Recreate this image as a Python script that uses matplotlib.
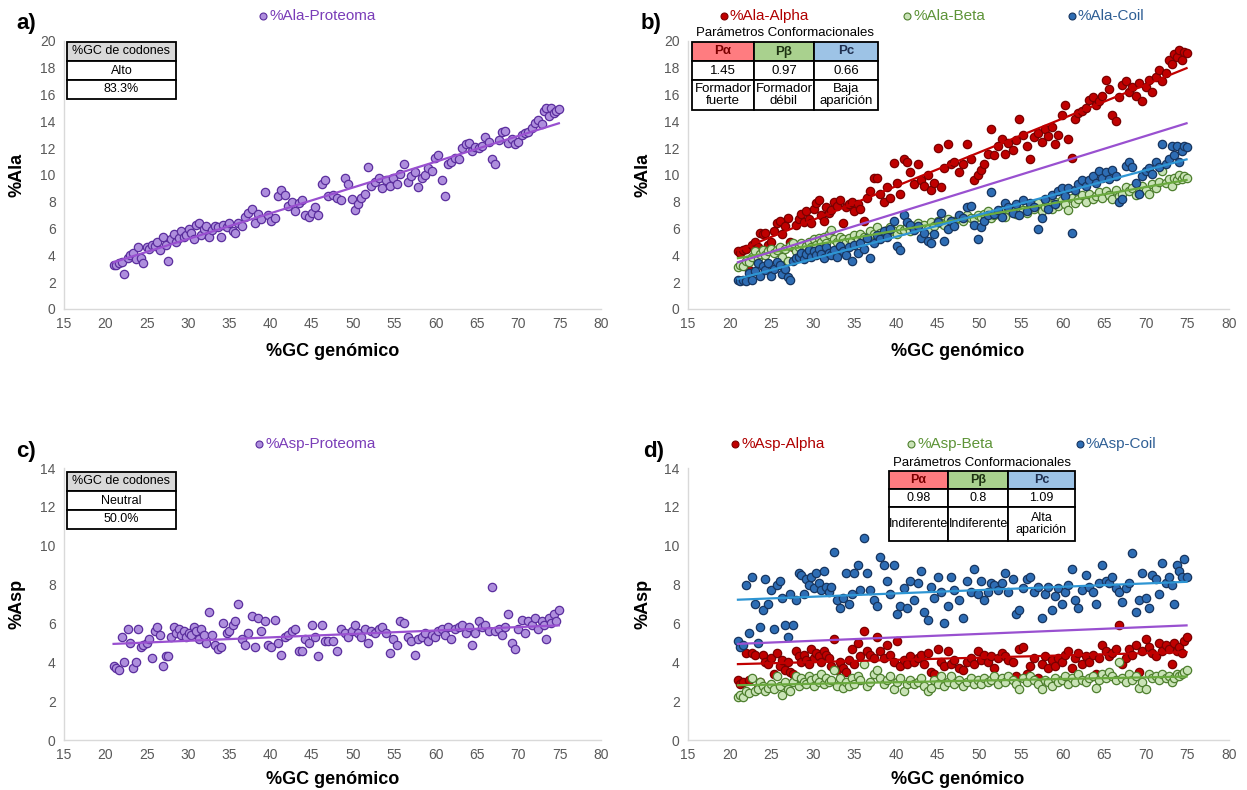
import numpy as np
import matplotlib
matplotlib.use("Agg")
import matplotlib.pyplot as plt
from matplotlib.patches import Rectangle

plt.rcParams['font.family'] = ['Liberation Sans', 'DejaVu Sans']

# genomic GC content of each genome (shared by every series)
gc = [21.0, 21.3, 21.6, 22.0, 22.3, 22.7, 23.0, 23.4, 23.7, 24.0,
      24.3, 24.6, 25.0, 25.3, 25.7, 26.0, 26.3, 26.6, 27.0, 27.3,
      27.6, 28.0, 28.3, 28.6, 28.9, 29.2, 29.5, 29.8, 30.1, 30.4,
      30.7, 31.0, 31.3, 31.6, 31.9, 32.2, 32.6, 32.9, 33.3, 33.6,
      34.0, 34.3, 34.7, 35.0, 35.4, 35.7, 36.1, 36.5, 36.9, 37.3,
      37.7, 38.1, 38.5, 38.9, 39.3, 39.7, 40.1, 40.5, 40.9, 41.3,
      41.7, 42.1, 42.6, 43.0, 43.4, 43.8, 44.2, 44.6, 45.0, 45.4,
      45.8, 46.2, 46.6, 47.0, 47.5, 48.0, 48.5, 49.0, 49.4, 49.8,
      50.2, 50.6, 51.0, 51.4, 51.8, 52.2, 52.7, 53.1, 53.5, 54.0,
      54.4, 54.8, 55.3, 55.7, 56.1, 56.6, 57.0, 57.5, 57.9, 58.3,
      58.7, 59.1, 59.5, 59.9, 60.3, 60.7, 61.1, 61.5, 61.9, 62.3,
      62.8, 63.2, 63.6, 64.0, 64.4, 64.8, 65.2, 65.6, 66.0, 66.4,
      66.8, 67.2, 67.6, 68.0, 68.4, 68.8, 69.2, 69.6, 70.0, 70.4,
      70.8, 71.2, 71.6, 72.0, 72.4, 72.8, 73.1, 73.4, 73.7, 74.0,
      74.3, 74.6, 74.9]

ala_prot = [3.3, 3.3, 3.4, 3.5, 2.6, 3.8, 4.0, 4.2, 3.7, 4.6,
            3.8, 3.4, 4.6, 4.5, 4.8, 4.7, 5.0, 4.4, 5.4, 4.8,
            3.6, 5.2, 5.6, 5.0, 5.3, 5.8, 5.4, 5.5, 6.0, 5.7,
            5.2, 6.3, 6.4, 5.5, 6.0, 6.2, 5.4, 5.9, 6.2, 6.1,
            5.4, 6.3, 6.1, 6.4, 5.8, 5.7, 6.4, 6.2, 6.9, 7.2,
            7.5, 6.4, 7.1, 6.7, 8.7, 7.0, 6.6, 6.8, 8.4, 8.9,
            8.5, 7.7, 8.0, 7.3, 7.9, 8.1, 7.0, 6.9, 7.2, 7.6,
            7.0, 9.3, 9.6, 8.4, 8.5, 8.3, 8.1, 9.8, 9.3, 8.2,
            7.4, 7.8, 8.3, 8.6, 10.6, 9.2, 9.5, 9.8, 9.0, 9.6,
            9.2, 9.8, 9.3, 10.1, 10.8, 9.5, 9.9, 10.2, 9.1, 9.8,
            10.0, 10.5, 10.3, 11.3, 11.5, 9.6, 8.4, 10.8, 11.0, 11.3,
            11.2, 12.0, 12.3, 12.4, 11.8, 12.1, 12.0, 12.2, 12.8, 12.5,
            11.2, 10.8, 12.6, 13.2, 13.3, 12.4, 12.7, 12.3, 12.5, 13.0,
            13.1, 13.2, 13.5, 13.9, 14.1, 13.8, 14.8, 15.0, 14.4, 15.0,
            14.6, 14.8, 14.9]

ala_alpha = [4.3, 4.2, 4.4, 4.5, 2.9, 4.8, 5.0, 4.6, 5.7, 5.6,
             5.7, 4.8, 5.0, 5.8, 6.4, 6.6, 5.6, 6.2, 6.8, 5.0,
             4.6, 6.3, 6.7, 7.1, 6.5, 7.3, 6.7, 6.4, 7.5, 7.9,
             8.1, 7.0, 6.6, 7.6, 7.2, 7.4, 8.0, 7.7, 8.1, 6.4,
             7.6, 7.8, 8.0, 7.3, 7.8, 7.5, 6.6, 8.3, 8.8, 9.8,
             9.8, 8.6, 8.0, 9.1, 8.3, 10.9, 9.4, 8.6, 11.2, 11.0,
             10.2, 9.3, 10.8, 9.6, 9.2, 10.0, 8.9, 9.4, 12.0, 9.1,
             10.5, 12.3, 10.8, 11.0, 10.2, 10.8, 12.3, 11.2, 9.6, 10.0,
             10.4, 10.8, 11.6, 13.4, 11.5, 12.2, 12.7, 11.6, 12.4, 11.9,
             12.6, 14.2, 13.0, 12.2, 11.2, 12.8, 13.1, 12.5, 13.4, 12.9,
             13.6, 12.3, 13.0, 14.5, 15.2, 12.7, 11.3, 14.2, 14.6, 14.8,
             15.0, 15.6, 15.8, 15.2, 15.5, 15.9, 17.1, 16.4, 14.5, 14.0,
             15.8, 16.7, 17.0, 16.2, 16.6, 15.9, 16.9, 15.5, 16.6, 17.1,
             16.2, 17.3, 17.8, 17.0, 17.6, 18.6, 18.3, 19.0, 18.8, 19.3,
             18.6, 19.2, 19.1]

ala_beta = [3.1, 3.3, 3.2, 3.6, 3.5, 3.9, 4.3, 3.8, 4.1, 4.4,
            4.0, 4.3, 4.5, 4.2, 4.4, 4.6, 3.9, 4.5, 3.6, 4.7,
            4.9, 4.3, 4.6, 4.9, 4.4, 4.7, 5.0, 4.6, 5.2, 4.8,
            5.3, 5.0, 5.4, 4.9, 5.6, 5.9, 5.2, 5.0, 5.4, 5.2,
            5.0, 5.3, 5.1, 5.5, 5.2, 5.6, 5.4, 5.3, 5.8, 5.6,
            6.1, 5.7, 5.5, 5.9, 6.1, 5.8, 5.6, 6.0, 5.9, 6.2,
            5.8, 6.2, 6.4, 6.1, 6.3, 6.0, 6.5, 6.2, 6.6, 6.4,
            6.3, 6.7, 6.5, 6.6, 6.8, 6.6, 7.0, 6.8, 6.7, 7.0,
            6.9, 7.1, 7.3, 6.8, 7.0, 7.2, 7.4, 6.9, 7.5, 7.3,
            7.1, 7.6, 7.4, 7.2, 7.7, 7.5, 7.9, 7.3, 7.6, 7.8,
            7.5, 8.0, 7.7, 8.1, 7.8, 7.4, 8.3, 7.9, 8.2, 8.5,
            8.0, 8.6, 8.2, 8.4, 8.7, 8.3, 8.8, 8.5, 8.2, 8.9,
            8.4, 8.6, 9.1, 8.8, 9.0, 8.5, 8.7, 9.2, 8.9, 8.6,
            9.3, 9.0, 9.5, 10.3, 9.4, 9.7, 9.2, 9.8, 9.6, 10.0,
            9.7, 9.9, 9.8]

ala_coil = [2.2, 2.1, 2.2, 2.1, 2.7, 2.2, 2.8, 3.4, 2.5, 3.2,
            2.9, 3.4, 2.5, 3.0, 3.5, 3.3, 2.6, 3.0, 2.4, 2.2,
            3.6, 3.8, 3.9, 4.2, 3.7, 4.1, 4.4, 3.9, 4.3, 4.0,
            4.5, 4.1, 3.8, 4.6, 4.2, 4.0, 4.4, 3.9, 4.7, 4.3,
            4.0, 4.6, 3.6, 4.8, 4.2, 4.9, 4.5, 5.3, 3.8, 4.9,
            5.5, 5.2, 5.8, 5.4, 6.0, 6.6, 4.7, 4.4, 7.0, 6.5,
            6.3, 5.9, 6.2, 5.3, 5.7, 5.1, 4.9, 5.6, 6.5, 7.2,
            5.1, 6.0, 6.6, 6.2, 7.0, 6.8, 7.6, 7.7, 6.3, 5.2,
            6.1, 6.6, 7.0, 8.7, 7.1, 7.4, 6.9, 7.9, 7.6, 7.2,
            7.8, 7.0, 8.1, 7.3, 7.9, 7.6, 6.0, 6.8, 8.2, 7.5,
            8.5, 7.8, 8.8, 9.0, 8.4, 9.0, 5.7, 8.9, 9.3, 9.6,
            9.2, 9.6, 9.9, 9.4, 10.3, 9.8, 10.2, 9.7, 10.4, 9.9,
            8.0, 8.2, 10.7, 11.0, 10.6, 9.4, 8.6, 9.9, 10.3, 10.5,
            10.1, 11.0, 10.6, 12.3, 10.8, 11.2, 12.2, 11.5, 12.2, 11.0,
            11.8, 12.2, 12.1]

asp_prot = [3.8, 3.7, 3.6, 5.3, 4.0, 5.7, 5.0, 3.7, 4.0, 5.7,
            4.8, 4.9, 5.0, 5.2, 4.2, 5.6, 5.8, 5.4, 3.8, 4.3,
            4.3, 5.3, 5.8, 5.5, 5.7, 5.4, 5.6, 5.3, 5.5, 5.4,
            5.8, 5.6, 5.2, 5.7, 5.4, 5.0, 6.6, 5.4, 4.9, 4.7,
            4.8, 6.0, 5.5, 5.6, 5.9, 6.1, 7.0, 5.2, 4.9, 5.5,
            6.4, 4.8, 6.3, 5.6, 6.1, 4.9, 4.8, 6.2, 5.0, 4.4,
            5.3, 5.4, 5.6, 5.7, 4.6, 4.6, 5.2, 5.0, 5.9, 5.3,
            4.3, 5.9, 5.1, 5.1, 5.1, 4.6, 5.7, 5.5, 5.3, 5.6,
            5.9, 5.5, 5.3, 5.7, 5.0, 5.6, 5.5, 5.7, 5.8, 5.5,
            4.5, 5.2, 4.9, 6.1, 6.0, 5.3, 5.1, 4.4, 5.2, 5.3,
            5.5, 5.1, 5.4, 5.3, 5.6, 5.7, 5.4, 5.8, 5.2, 5.7,
            5.8, 5.9, 5.5, 5.8, 4.9, 5.5, 6.1, 5.8, 5.9, 5.6,
            7.9, 5.6, 5.7, 5.4, 5.8, 6.5, 5.0, 4.7, 5.7, 6.2,
            5.5, 6.1, 5.9, 6.3, 5.7, 6.1, 5.9, 5.2, 6.3, 6.0,
            6.5, 6.1, 6.7]

asp_alpha = [3.1, 2.9, 3.0, 4.5, 3.1, 4.5, 4.4, 2.7, 3.0, 4.4,
             4.0, 3.9, 4.2, 3.4, 4.5, 3.8, 4.1, 3.6, 4.0, 3.5,
             3.4, 4.6, 4.3, 4.0, 4.4, 4.1, 3.9, 4.7, 4.2, 4.5,
             4.3, 4.0, 4.6, 4.4, 4.2, 3.8, 5.2, 3.6, 4.0, 3.7,
             3.5, 4.1, 4.7, 3.9, 5.0, 4.3, 5.6, 4.6, 4.4, 4.2,
             5.3, 4.6, 4.2, 4.9, 4.4, 4.0, 5.1, 3.8, 4.1, 3.9,
             4.3, 4.0, 4.2, 4.4, 3.9, 4.5, 3.5, 3.4, 4.7, 4.0,
             3.8, 4.6, 3.9, 4.1, 3.7, 3.6, 4.0, 4.2, 3.9, 4.6,
             4.1, 4.4, 4.0, 4.3, 3.7, 4.2, 4.5, 4.3, 4.1, 4.0,
             3.3, 4.7, 4.8, 3.4, 3.8, 4.2, 3.2, 3.9, 4.3, 3.7,
             4.1, 3.8, 4.2, 4.0, 4.4, 4.6, 3.7, 4.2, 4.5, 3.9,
             4.3, 4.0, 4.4, 3.4, 4.2, 4.9, 4.6, 4.3, 4.5, 4.7,
             5.9, 3.9, 4.2, 4.7, 4.4, 4.9, 3.5, 4.6, 5.2, 4.8,
             4.5, 4.3, 5.0, 4.6, 4.9, 4.7, 3.9, 5.0, 4.6, 4.8,
             4.5, 5.1, 5.3]

asp_beta = [2.2, 2.3, 2.2, 2.5, 2.4, 3.2, 2.5, 2.6, 3.0, 2.8,
            2.5, 2.7, 2.9, 2.6, 3.3, 2.8, 2.3, 3.0, 2.6, 2.5,
            3.0, 3.3, 2.8, 3.2, 3.0, 2.9, 3.3, 3.1, 2.8, 3.2,
            3.0, 3.4, 2.9, 3.2, 3.0, 3.1, 3.6, 2.8, 3.2, 2.7,
            3.0, 2.8, 3.2, 2.9, 3.3, 3.1, 3.9, 2.8, 3.0, 3.4,
            3.6, 3.2, 2.9, 3.1, 3.3, 2.6, 3.0, 3.2, 2.5, 2.9,
            3.1, 2.9, 3.0, 3.2, 2.8, 2.5, 2.7, 3.1, 2.9, 3.3,
            2.8, 3.0, 3.3, 2.9, 3.1, 2.8, 3.0, 3.2, 2.9, 3.1,
            2.9, 3.2, 3.0, 3.1, 3.3, 2.9, 3.2, 3.0, 3.3, 3.1,
            2.9, 2.6, 3.2, 3.0, 3.3, 3.1, 2.9, 2.6, 3.1, 3.0,
            2.8, 3.2, 3.0, 3.1, 3.3, 2.9, 3.2, 3.0, 3.4, 3.1,
            3.0, 3.2, 3.3, 2.7, 3.1, 3.4, 3.2, 3.5, 3.3, 3.1,
            4.0, 3.2, 3.0, 3.4, 3.1, 3.3, 2.7, 3.0, 2.6, 3.4,
            3.2, 3.3, 3.1, 3.4, 3.2, 3.3, 3.0, 3.2, 3.4, 3.3,
            3.4, 3.5, 3.6]

asp_coil = [5.1, 4.8, 4.9, 8.0, 5.5, 8.4, 7.0, 5.0, 5.8, 6.7,
            8.3, 7.0, 7.7, 5.7, 8.0, 8.2, 7.3, 5.9, 5.3, 7.5,
            5.9, 7.2, 8.6, 8.5, 7.5, 8.3, 8.0, 8.4, 7.8, 8.6,
            8.1, 7.7, 8.7, 7.9, 7.6, 7.9, 9.7, 7.2, 6.8, 7.3,
            8.6, 7.0, 7.5, 8.6, 9.0, 7.7, 10.4, 8.6, 7.7, 7.2,
            6.9, 9.4, 9.0, 8.2, 7.5, 9.0, 6.5, 6.9, 7.8, 6.8,
            8.2, 7.2, 8.1, 8.7, 6.6, 6.2, 7.9, 7.3, 8.4, 7.6,
            6.0, 6.9, 8.4, 7.7, 7.2, 6.3, 8.2, 7.6, 8.8, 7.5,
            8.2, 7.2, 7.6, 8.1, 8.0, 7.7, 8.1, 8.6, 7.6, 8.3,
            6.5, 6.7, 7.8, 8.3, 8.4, 7.6, 7.9, 6.3, 7.5, 7.9,
            6.7, 7.4, 7.8, 7.0, 7.6, 8.0, 8.8, 7.2, 6.8, 7.7,
            8.5, 7.9, 7.6, 7.0, 8.1, 9.0, 8.2, 8.1, 8.4, 7.8,
            7.6, 7.1, 7.8, 8.1, 9.6, 6.6, 7.2, 8.6, 7.3, 6.8,
            8.5, 8.3, 7.5, 9.1, 8.1, 8.4, 8.0, 7.0, 9.0, 8.7,
            8.4, 9.3, 8.4]

# table contents
ala_codon = ["%GC de codones", "Alto", "83.3%"]
asp_codon = ["%GC de codones", "Neutral", "50.0%"]
conf_head = ["P\u03b1", "P\u03b2", "Pc"]
ala_conf = [["1.45", "0.97", "0.66"],
            ["Formador\nfuerte", "Formador\nd\u00e9bil", "Baja\naparici\u00f3n"]]
asp_conf = [["0.98", "0.8", "1.09"],
            ["Indiferente", "Indiferente", "Alta\naparici\u00f3n"]]

# colours (fill, edge, trend line, legend text)
PROT = ("#AE8EDD", "#5B2E9E", "#9950D0", "#7A3DB8")
ALPHA = ("#C00000", "#7A0000", "#C00000", "#B00000")
BETA = ("#C9E3B6", "#4E7F2E", "#6AAA3E", "#5E9438")
COIL = ("#2E6DB4", "#17355F", "#2E95D3", "#2F5F95")
TICK = "#595959"

W, H = 1247, 790
fig = plt.figure(figsize=(W / 100, H / 100), dpi=100)


def make_ax(px_left, px_right, px_bottom, px_top, ymax):
    ax = fig.add_axes([px_left / W, 1 - px_bottom / H,
                       (px_right - px_left) / W, (px_bottom - px_top) / H])
    ax.set_xlim(15, 80)
    ax.set_ylim(0, ymax)
    ax.set_xticks(range(15, 81, 5))
    ax.set_yticks(range(0, ymax + 1, 2))
    for s in ("top", "right"):
        ax.spines[s].set_visible(False)
    for s in ("left", "bottom"):
        ax.spines[s].set_color("#D9D9D9")
        ax.spines[s].set_linewidth(1.0)
    ax.tick_params(length=0, labelsize=10, colors=TICK, pad=6)
    return ax


def scatter_fit(ax, y, style, show_points=True, lw=1.6):
    if show_points:
        ax.scatter(gc, y, s=36, c=style[0], edgecolors=style[1],
                   linewidths=0.9, zorder=2)
    k = np.polyfit(gc, y, 1)
    xs = np.array([min(gc), max(gc)])
    ax.plot(xs, np.polyval(k, xs), color=style[2], lw=lw, zorder=4)


ax_a = make_ax(64, 601, 309, 41, 20)
ax_b = make_ax(688, 1229, 309, 41, 20)
ax_c = make_ax(64, 601, 740, 468, 14)
ax_d = make_ax(688, 1229, 740, 468, 14)

scatter_fit(ax_a, ala_prot, PROT)
scatter_fit(ax_b, ala_alpha, ALPHA)
scatter_fit(ax_b, ala_beta, BETA)
scatter_fit(ax_b, ala_coil, COIL)
scatter_fit(ax_b, ala_prot, PROT, show_points=False)

scatter_fit(ax_c, asp_prot, PROT)
scatter_fit(ax_d, asp_alpha, ALPHA)
scatter_fit(ax_d, asp_beta, BETA)
scatter_fit(ax_d, asp_coil, COIL)
scatter_fit(ax_d, asp_prot, PROT, show_points=False)

# overlay in pixel coordinates for labels, legends and tables
ov = fig.add_axes([0, 0, 1, 1], zorder=10)
ov.set_xlim(0, W)
ov.set_ylim(H, 0)
ov.axis("off")

for lab, x, y in [("a)", 26, 23), ("b)", 651, 23), ("c)", 26, 452), ("d)", 654, 452)]:
    ov.text(x, y, lab, fontsize=16, weight="bold", ha="center", va="center")

for lab, x, y in [("%Ala", 17, 175), ("%Ala", 643, 175), ("%Asp", 17, 604), ("%Asp", 643, 604)]:
    ov.text(x, y, lab, fontsize=13, weight="bold", rotation=90, ha="center", va="center")
for x, y in [(333, 351), (958, 351), (333, 780), (958, 780)]:
    ov.text(x, y, "%GC gen\u00f3mico", fontsize=13, weight="bold", ha="center", va="center")


def legend_item(x, y, text, style):
    ov.plot([x], [y], "o", ms=5, mfc=style[0], mec=style[1], mew=0.8)
    ov.text(x + 6, y, text, fontsize=11, color=style[3], ha="left", va="center")


legend_item(263, 16, "%Ala-Proteoma", PROT)
legend_item(724, 16, "%Ala-Alpha", ALPHA)
legend_item(907, 16, "%Ala-Beta", BETA)
legend_item(1072, 16, "%Ala-Coil", COIL)
legend_item(259, 444, "%Asp-Proteoma", PROT)
legend_item(735, 444, "%Asp-Alpha", ALPHA)
legend_item(911, 444, "%Asp-Beta", BETA)
legend_item(1080, 444, "%Asp-Coil", COIL)


def cell(x0, x1, y0, y1, text, fill="white", bold=False, size=9, color="black"):
    ov.add_patch(Rectangle((x0, y0), x1 - x0, y1 - y0, facecolor=fill,
                           edgecolor="black", lw=1.3))
    ov.text((x0 + x1) / 2, (y0 + y1) / 2, text, fontsize=size, ha="center",
            va="center", weight="bold" if bold else "normal", linespacing=1.0,
            color=color)


def codon_table(x0, x1, rows_y, texts):
    fills = ["#D9D9D9", "white", "white"]
    for i, t in enumerate(texts):
        cell(x0, x1, rows_y[i], rows_y[i + 1], t, fills[i])


def conf_table(cols_x, rows_y, vals, title_y, size):
    ov.text((cols_x[0] + cols_x[-1]) / 2, title_y, "Par\u00e1metros Conformacionales",
            fontsize=9.5, ha="center", va="center")
    head_fill = ["#FF7C80", "#A9D18E", "#9DC3E6"]
    head_col = ["#7A0000", "#1E3312", "#1F2F4F"]
    for j in range(3):
        cell(cols_x[j], cols_x[j + 1], rows_y[0], rows_y[1], conf_head[j],
             head_fill[j], bold=True, size=size, color=head_col[j])
        cell(cols_x[j], cols_x[j + 1], rows_y[1], rows_y[2], vals[0][j], size=size)
        cell(cols_x[j], cols_x[j + 1], rows_y[2], rows_y[3], vals[1][j], size=size)


codon_table(67, 176, [42, 61, 80, 99], ala_codon)
codon_table(67, 176, [472, 491, 510, 529], asp_codon)
conf_table([692, 754, 814, 878], [42, 61, 80, 110], ala_conf, 33, 9.5)
conf_table([889, 948, 1008, 1075], [471, 489, 507, 541], asp_conf, 463, 9)

fig.savefig("out.png", dpi=100)
